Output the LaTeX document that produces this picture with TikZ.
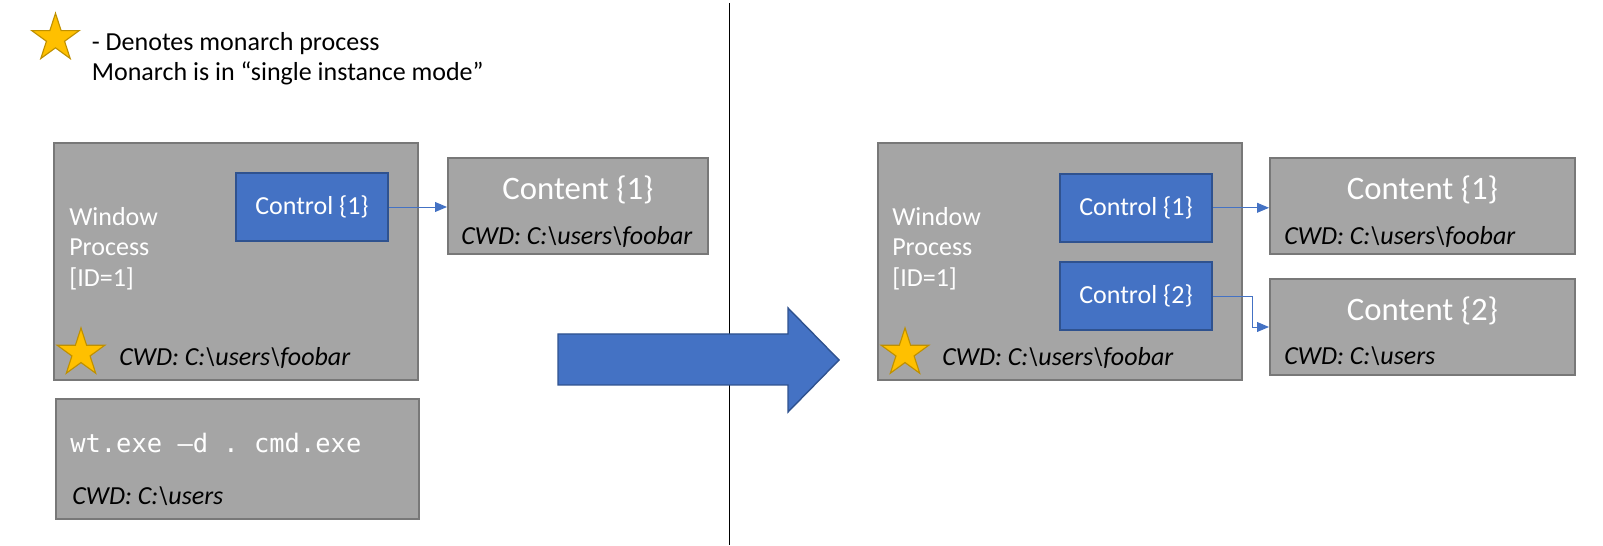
\documentclass[tikz,border=0pt]{standalone}
\usepackage{fontspec}
\setmainfont{Carlito}
\setmonofont{DejaVu Sans Mono}
\definecolor{BoxFill}{HTML}{A5A5A5}
\definecolor{BoxBorder}{HTML}{787878}
\definecolor{ControlFill}{HTML}{4472C4}
\definecolor{ControlBorder}{HTML}{2F528F}
\definecolor{StarFill}{HTML}{FFC000}
\definecolor{StarBorder}{HTML}{BF9000}
\usetikzlibrary{calc, arrows.meta, shapes.geometric}

\tikzset{
    procBox/.style={draw=BoxBorder, fill=BoxFill, line width=1.4pt, inner sep=0pt},
    ctrlBox/.style={draw=ControlBorder, fill=ControlFill, line width=1.4pt, text=white,
        font=\fontsize{18.5}{21.3}\selectfont, minimum width=3.8cm, minimum height=1.7cm},
    monarch/.style={star, star points=5, star point ratio=2.618, draw=StarBorder,
        fill=StarFill, line width=0.8pt, minimum size=1.25cm, inner sep=0pt},
    link/.style={draw=ControlFill, line width=0.7pt, -{Triangle[length=8.5pt,width=7pt]}},
    plainText/.style={font=\fontsize{18.5}{21.8}\selectfont, inner sep=0pt, anchor=base west},
    whiteText/.style={plainText, text=white, align=left},
    cwdText/.style={plainText, font=\fontsize{18.5}{21.3}\selectfont\itshape},
    headText/.style={text=white, font=\fontsize{23.3}{28}\selectfont, inner sep=0pt, anchor=base},
    cmdText/.style={plainText, text=white, font=\ttfamily\fontsize{18.1}{21}\selectfont}
}

\newcommand{\cwdpath}{CWD: C:\textbackslash users}

\begin{document}
\begin{tikzpicture}

    \useasboundingbox (0,0) rectangle (40.075,13.625);

    % Leyenda
    \node [monarch] (legendStar) at (1.3875,12.6675) {};
    \node [plainText, align=left] (legendText) at (2.29,11.6)
        {- Denotes monarch process\\Monarch is in “single instance mode”};

    % Separador
    \draw [line width=0.7pt] (18.225,13.55) -- (18.225,0);

    % Antes
    \node [procBox, minimum width=9.1cm, minimum height=5.925cm] (winL) at (5.9,7.0875) {};
    \node [procBox, minimum width=6.5cm, minimum height=2.4cm] (contL) at (14.45,8.475) {};
    \node [procBox, minimum width=9.075cm, minimum height=3cm] (cmdBox) at (5.9375,2.15) {};
    \node [ctrlBox] (ctrlL) at (7.8,8.45) {Control \{1\}};

    \node [whiteText] (winLText) at (1.725,6.46) {Window\\Process\\{[ID=1]}};
    \node [monarch] (starL) at (2.025,4.8) {};
    \node [cwdText] (cwdWinL) at (2.975,4.475) {\cwdpath\textbackslash foobar};
    \node [headText] (headL) at (14.45,8.625) {Content \{1\}};
    \node [cwdText] (cwdContL) at (11.525,7.5) {\cwdpath\textbackslash foobar};
    \node [cmdText] (cmdLine) at (1.75,2.3) {wt.exe –d . cmd.exe};
    \node [cwdText] (cwdCmd) at (1.8,1.025) {\cwdpath};

    \draw [link] (ctrlL.east) -- (ctrlL.east -| contL.west);

    % Flecha grande
    \draw [fill=ControlFill, draw=ControlBorder, line width=1pt]
        (13.95,5.275) -- (19.7,5.275) -- (19.7,5.925) -- (20.975,4.625)
        -- (19.7,3.325) -- (19.7,4.0) -- (13.95,4.0) -- cycle;

    % Despues
    \node [procBox, minimum width=9.1cm, minimum height=5.925cm] (winR) at (26.5,7.0875) {};
    \node [procBox, minimum width=7.625cm, minimum height=2.4cm] (contA) at (35.5625,8.475) {};
    \node [procBox, minimum width=7.625cm, minimum height=2.4cm] (contB) at (35.5625,5.45) {};
    \node [ctrlBox] (ctrlA) at (28.4,8.43) {Control \{1\}};
    \node [ctrlBox] (ctrlB) at (28.4,6.225) {Control \{2\}};

    \node [whiteText] (winRText) at (22.3,6.46) {Window\\Process\\{[ID=1]}};
    \node [monarch] (starR) at (22.625,4.8) {};
    \node [cwdText] (cwdWinR) at (23.55,4.475) {\cwdpath\textbackslash foobar};
    \node [headText] (headA) at (35.5625,8.625) {Content \{1\}};
    \node [cwdText] (cwdContA) at (32.1,7.5) {\cwdpath\textbackslash foobar};
    \node [headText] (headB) at (35.5625,5.6) {Content \{2\}};
    \node [cwdText] (cwdContB) at (32.1,4.5) {\cwdpath};

    \coordinate (elbow) at (31.3,6);
    \draw [link] (ctrlA.east) -- (ctrlA.east -| contA.west);
    \draw [link] (ctrlB.east) -| (elbow) |- (contB.west);

\end{tikzpicture}
\end{document}
